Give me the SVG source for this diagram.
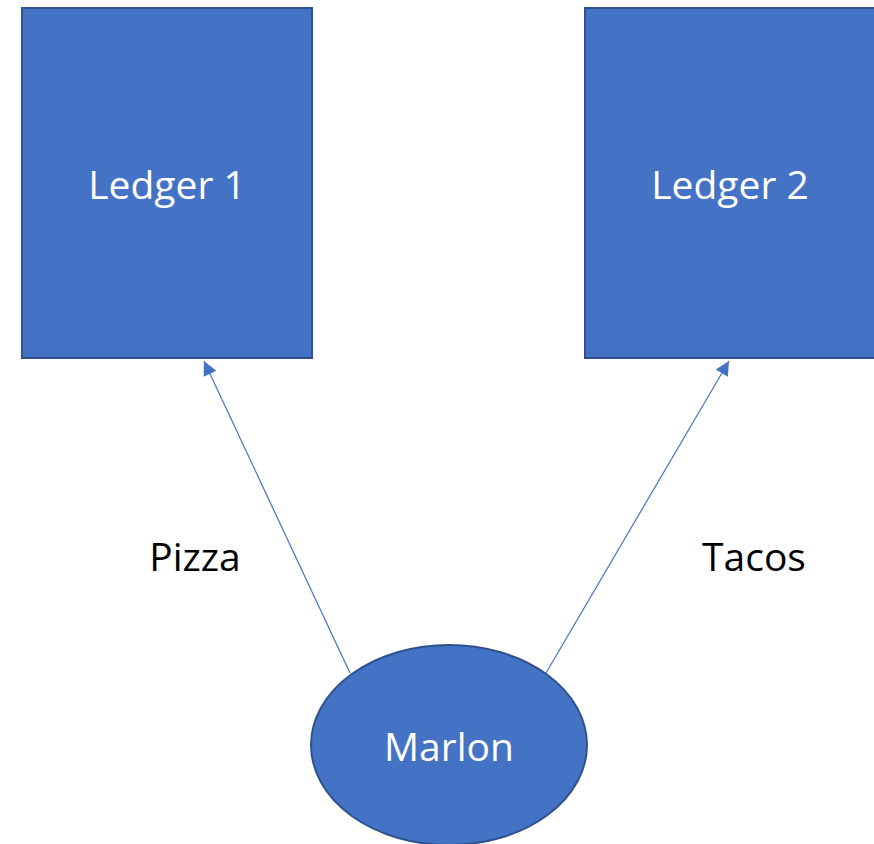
<svg xmlns="http://www.w3.org/2000/svg" width="874" height="844" viewBox="0 0 874 844">
<style>
.node{fill:#4472C4;stroke:#2F528F;stroke-width:2}
.lbl{font-family:"Open Sans","Liberation Sans",sans-serif;font-size:39px;fill:#fff;text-anchor:middle}
.elbl{font-family:"Open Sans","Liberation Sans",sans-serif;font-size:39px;fill:#000;text-anchor:middle}
.edge{stroke:#4472C4;stroke-width:1.2;fill:none}
</style>
<defs>
<marker id="ah" viewBox="0 0 10 10" refX="10" refY="5" markerWidth="10" markerHeight="10" markerUnits="userSpaceOnUse" orient="auto" overflow="visible">
<path d="M0,0 L10,5 L0,10 Z" fill="#4472C4" transform="scale(1.4) translate(-2.9,-1.45)"/>
</marker>
</defs>
<rect width="874" height="844" fill="#fff"/>
<g id="connectors">
<line class="edge" x1="350" y1="673" x2="204" y2="361" marker-end="url(#ah)"/>
<line class="edge" x1="546" y1="673" x2="729" y2="361" marker-end="url(#ah)"/>
<text class="elbl" x="195" y="571">Pizza</text>
<text class="elbl" x="754" y="571">Tacos</text>
</g>
<g id="ledger1">
<rect class="node" x="22" y="8" width="290" height="350"/>
<text class="lbl" x="167" y="199">Ledger 1</text>
</g>
<g id="ledger2">
<rect class="node" x="585" y="8" width="295" height="350"/>
<text class="lbl" x="730" y="199">Ledger 2</text>
</g>
<g id="marlon">
<ellipse class="node" cx="449" cy="745" rx="138" ry="100"/>
<text class="lbl" x="449" y="761">Marlon</text>
</g>
</svg>
